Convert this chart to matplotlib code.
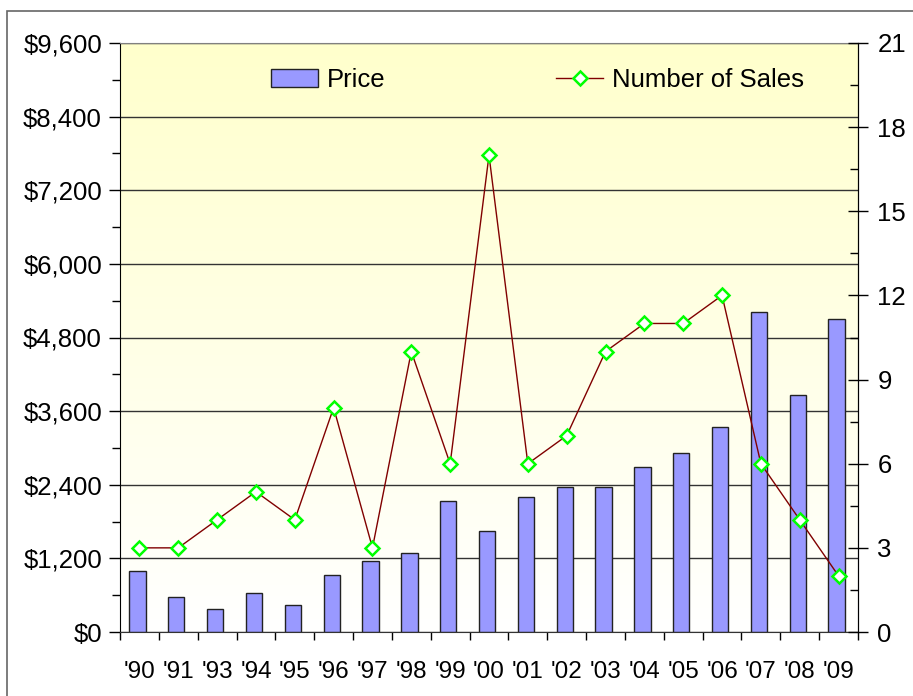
import numpy as np
import matplotlib
matplotlib.use("Agg")
import matplotlib.pyplot as plt
from matplotlib.ticker import MultipleLocator, FuncFormatter, FixedLocator
from matplotlib.colors import LinearSegmentedColormap
from matplotlib.patches import Rectangle
from matplotlib.lines import Line2D

years = ["'90", "'91", "'93", "'94", "'95", "'96", "'97", "'98", "'99", "'00",
         "'01", "'02", "'03", "'04", "'05", "'06", "'07", "'08", "'09"]
price = [990, 565, 370, 630, 435, 925, 1150, 1285, 2130, 1640,
         2195, 2360, 2360, 2685, 2910, 3335, 5215, 3860, 5100]
sales = [3, 3, 4, 5, 4, 8, 3, 10, 6, 17, 6, 7, 10, 11, 11, 12, 6, 4, 2]

plt.rcParams['font.family'] = ['Liberation Sans', 'DejaVu Sans']
plt.rcParams['font.size'] = 18

fig = plt.figure(figsize=(9.13, 6.96), dpi=100)
ax = fig.add_axes([120 / 913, 1 - 632 / 696, 738 / 913, 589 / 696])

# outer chart frame (runs off the image on right and bottom)
fig.patches.append(Rectangle((7 / 913, -0.2), 1.2, 0.2 + (1 - 11 / 696),
                             transform=fig.transFigure, fill=False,
                             edgecolor='#666666', linewidth=1.2))

# yellow -> white gradient background
cmap = LinearSegmentedColormap.from_list('bg', ['#ffffff', '#ffffcc'])
grad = np.linspace(0, 1, 256).reshape(-1, 1)
ax.imshow(grad, cmap=cmap, origin='lower', aspect='auto',
          extent=[0, 1, 0, 1], transform=ax.transAxes, zorder=0)

x = np.arange(len(years))
ax.bar(x - 0.05, price, width=0.42, color='#9999ff', edgecolor='#222222',
       linewidth=1.0, zorder=2)

ax.set_xlim(-0.5, len(years) - 0.5)
ax.set_ylim(0, 9600)
ax.set_axisbelow(True)
ax.yaxis.set_major_locator(MultipleLocator(1200))
ax.yaxis.set_minor_locator(MultipleLocator(600))
ax.yaxis.set_major_formatter(FuncFormatter(lambda v, p: '${:,.0f}'.format(v)))
ax.grid(axis='y', color='#333333', linewidth=1.0, zorder=1)
ax.tick_params(axis='y', which='major', direction='out', length=8, width=1,
               pad=5, labelsize=18.5)
ax.tick_params(axis='y', which='minor', direction='out', length=6, width=1)

ax.xaxis.set_major_locator(FixedLocator(np.arange(len(years) + 1) - 0.5))
ax.xaxis.set_minor_locator(FixedLocator(x))
ax.xaxis.set_major_formatter(FuncFormatter(lambda v, p: ''))
ax.set_xticklabels(years, minor=True)
ax.tick_params(axis='x', which='major', direction='out', length=6, width=1)
ax.tick_params(axis='x', which='minor', length=0, pad=21, labelsize=17.5)

ax.spines['top'].set_color('#808080')
ax.spines['bottom'].set_color('#333333')
ax.spines['left'].set_color('#000000')
ax.spines['right'].set_color('#000000')

ax2 = ax.twinx()
ax2.plot(x, sales, color='#800000', linewidth=1.0, marker='D', markersize=7.5,
         markerfacecolor='white', markeredgecolor='#00ff00', markeredgewidth=1.8,
         zorder=3)
ax2.set_ylim(0, 21)
ax2.yaxis.set_major_locator(MultipleLocator(3))
ax2.yaxis.set_minor_locator(MultipleLocator(1.5))
ax2.tick_params(axis='y', which='major', direction='inout', length=14, width=1,
                pad=7, labelsize=18.5)
ax2.tick_params(axis='y', which='minor', direction='in', length=6, width=1)
for s in ['top', 'bottom', 'left']:
    ax2.spines[s].set_visible(False)

handles = [Rectangle((0, 0), 1, 1, facecolor='#9999ff', edgecolor='#222222', linewidth=1.0),
           Line2D([], [], color='#800000', linewidth=1.0, marker='D', markersize=7.5,
                  markerfacecolor='white', markeredgecolor='#00ff00', markeredgewidth=1.8)]
ax.legend(handles, ['Price', 'Number of Sales'], ncol=2, frameon=False,
          loc='center', bbox_to_anchor=(0.566, 0.938), handlelength=1.83,
          handleheight=0.7, handletextpad=0.35, columnspacing=6.65, fontsize=18.5)

fig.savefig('out.png', dpi=100)
